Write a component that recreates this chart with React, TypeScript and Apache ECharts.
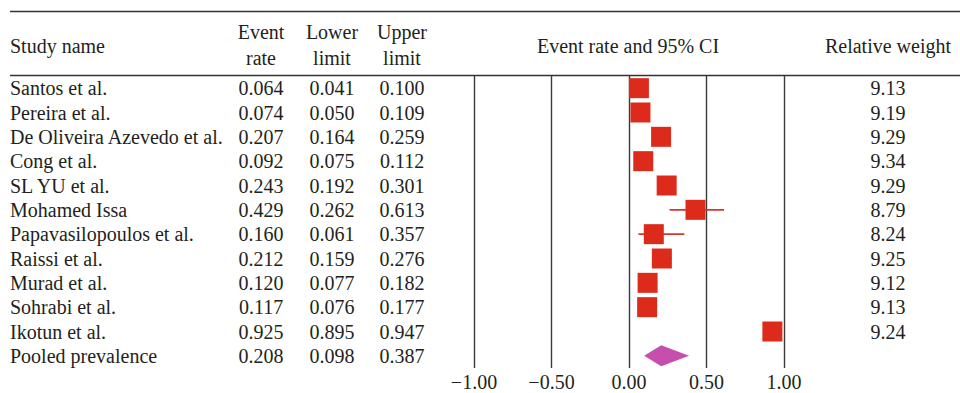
import React, { useEffect, useRef } from "react";
import * as echarts from "echarts";

const studies = [
  "Santos et al.",
  "Pereira et al.",
  "De Oliveira Azevedo et al.",
  "Cong et al.",
  "SL YU et al.",
  "Mohamed Issa",
  "Papavasilopoulos et al.",
  "Raissi et al.",
  "Murad et al.",
  "Sohrabi et al.",
  "Ikotun et al.",
  "Pooled prevalence",
];
const eventRate = [0.064, 0.074, 0.207, 0.092, 0.243, 0.429, 0.16, 0.212, 0.12, 0.117, 0.925, 0.208];
const lowerLimit = [0.041, 0.05, 0.164, 0.075, 0.192, 0.262, 0.061, 0.159, 0.077, 0.076, 0.895, 0.098];
const upperLimit = [0.1, 0.109, 0.259, 0.112, 0.301, 0.613, 0.357, 0.276, 0.182, 0.177, 0.947, 0.387];
const relativeWeight = ["9.13", "9.19", "9.29", "9.34", "9.29", "8.79", "8.24", "9.25", "9.12", "9.13", "9.24", ""];
const pooledIndex = 11;
const xMin = -1;
const xMax = 1;
const xInterval = 0.5;

const FONT = "'Liberation Serif', 'Times New Roman', serif";
const TEXT = "#231f20";
const FS = 20;

function fmt3(v: number) {
  return v.toFixed(3);
}

export default function App() {
  const ref = useRef<HTMLDivElement>(null);
  useEffect(() => {
    document.body.style.margin = "0";
    if (!ref.current) return;
    const chart = echarts.init(ref.current, undefined, { renderer: "svg" });

    const gridLeft = 474;
    const gridRight = 784;
    const labelAxis = (position: "left" | "right", margin: number, align: string, values: string[]) => ({
      type: "category",
      data: studies,
      inverse: true,
      position,
      axisLine: { show: false },
      axisTick: { show: false },
      splitLine: { show: false },
      axisLabel: {
        interval: 0,
        margin,
        align,
        color: TEXT,
        fontFamily: FONT,
        fontSize: FS,
        formatter: (_v: string, i: number) => values[i],
      },
    });

    const squares = eventRate
      .map((v, i) => [v, i])
      .filter((d) => d[1] !== pooledIndex);
    const whiskers = eventRate
      .map((_, i) => [lowerLimit[i], upperLimit[i], i])
      .filter((d) => d[2] !== pooledIndex);
    const diamond = [[lowerLimit[pooledIndex], eventRate[pooledIndex], upperLimit[pooledIndex], pooledIndex]];

    const headerText = (text: string, x: number, y: number, align: string) => ({
      type: "text",
      x,
      y,
      style: {
        text,
        fill: TEXT,
        font: `${FS}px ${FONT}`,
        align,
        verticalAlign: "middle",
      },
    });

    chart.setOption({
      animation: false,
      grid: {
        left: gridLeft,
        top: 76,
        width: gridRight - gridLeft,
        height: 292,
        outerBoundsMode: "none",
      },
      xAxis: {
        type: "value",
        min: xMin,
        max: xMax,
        interval: xInterval,
        axisLine: { show: false },
        axisTick: { show: false },
        splitLine: { show: true, lineStyle: { color: "#3a3a3a", width: 1.4 } },
        axisLabel: {
          margin: 6,
          lineHeight: 16,
          color: TEXT,
          fontFamily: FONT,
          fontSize: FS,
          formatter: (v: number) => (v < 0 ? "\u2212" + Math.abs(v).toFixed(2) : v.toFixed(2)),
        },
      },
      yAxis: [
        labelAxis("left", gridLeft - 10, "left", studies),
        labelAxis("left", gridLeft - 261, "center", eventRate.map(fmt3)),
        labelAxis("left", gridLeft - 332, "center", lowerLimit.map(fmt3)),
        labelAxis("left", gridLeft - 402, "center", upperLimit.map(fmt3)),
        labelAxis("right", 888 - gridRight, "center", relativeWeight),
      ],
      graphic: [
        { type: "line", shape: { x1: 10, y1: 11.5, x2: 960, y2: 11.5 }, style: { stroke: "#333", lineWidth: 1.5 } },
        { type: "line", shape: { x1: 10, y1: 75.5, x2: 960, y2: 75.5 }, style: { stroke: "#333", lineWidth: 1.5 } },
        headerText("Study name", 10, 46, "left"),
        headerText("Event", 261, 32, "center"),
        headerText("rate", 261, 58, "center"),
        headerText("Lower", 332, 32, "center"),
        headerText("limit", 332, 58, "center"),
        headerText("Upper", 402, 32, "center"),
        headerText("limit", 402, 58, "center"),
        headerText("Event rate and 95% CI", 628, 46, "center"),
        headerText("Relative weight", 888, 46, "center"),
      ],
      series: [
        {
          type: "custom",
          name: "CI",
          yAxisIndex: 0,
          data: whiskers,
          encode: { x: [0, 1], y: 2 },
          renderItem: (params: any, api: any) => {
            const p1 = api.coord([api.value(0), api.value(2)]);
            const p2 = api.coord([api.value(1), api.value(2)]);
            return {
              type: "line",
              shape: { x1: p1[0], y1: p1[1], x2: p2[0], y2: p2[1] },
              style: { stroke: "#cf3a2e", lineWidth: 1.6 },
            };
          },
          z: 2,
        },
        {
          type: "scatter",
          name: "Event rate",
          yAxisIndex: 0,
          data: squares,
          symbol: "rect",
          symbolSize: 20,
          itemStyle: { color: "#dc2b1b", opacity: 1 },
          z: 3,
        },
        {
          type: "custom",
          name: "Pooled",
          yAxisIndex: 0,
          data: diamond,
          encode: { x: [0, 1, 2], y: 3 },
          renderItem: (params: any, api: any) => {
            const idx = api.value(3);
            const l = api.coord([api.value(0), idx]);
            const m = api.coord([api.value(1), idx]);
            const u = api.coord([api.value(2), idx]);
            const h = 10.5;
            return {
              type: "polygon",
              shape: {
                points: [
                  [l[0], l[1]],
                  [m[0], m[1] - h],
                  [u[0], u[1]],
                  [m[0], m[1] + h],
                ],
              },
              style: { fill: "#c64fae" },
            };
          },
          z: 3,
        },
      ],
    });
    return () => chart.dispose();
  }, []);
  return <div ref={ref} style={{ width: 960, height: 393 }} />;
}
